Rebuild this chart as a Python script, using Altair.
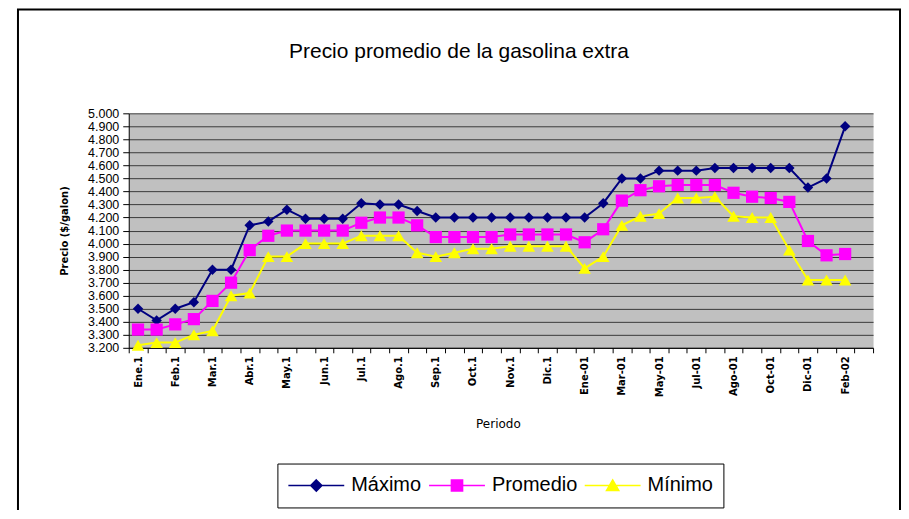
import altair as alt
import pandas as pd

periodos = ["Ene.1", "Ene.2", "Feb.1", "Feb.2", "Mar.1", "Mar.2", "Abr.1", "Abr.2",
            "May.1", "May.2", "Jun.1", "Jun.2", "Jul.1", "Jul.2", "Ago.1", "Ago.2",
            "Sep.1", "Sep.2", "Oct.1", "Oct.2", "Nov.1", "Nov.2", "Dic.1", "Dic.2",
            "Ene-01", "Feb-01", "Mar-01", "Abr-01", "May-01", "Jun-01", "Jul-01",
            "Jul-01 (2)", "Ago-01", "Sep-01", "Oct-01", "Nov-01", "Dic-01", "Ene-02",
            "Feb-02", "Mar-02"]

etiquetas = ["Ene.1", "Feb.1", "Mar.1", "Abr.1", "May.1", "Jun.1", "Jul.1", "Ago.1",
             "Sep.1", "Oct.1", "Nov.1", "Dic.1", "Ene-01", "Mar-01", "May-01",
             "Jul-01", "Ago-01", "Oct-01", "Dic-01", "Feb-02"]

maximo = [3.50, 3.41, 3.50, 3.55, 3.80, 3.80, 4.14, 4.17, 4.26, 4.19, 4.19, 4.19,
          4.31, 4.30, 4.30, 4.25, 4.20, 4.20, 4.20, 4.20, 4.20, 4.20, 4.20, 4.20,
          4.20, 4.31, 4.50, 4.50, 4.56, 4.56, 4.56, 4.58, 4.58, 4.58, 4.58, 4.58,
          4.43, 4.50, 4.90]

promedio = [3.34, 3.34, 3.38, 3.42, 3.56, 3.70, 3.95, 4.06, 4.10, 4.10, 4.10, 4.10,
            4.16, 4.20, 4.20, 4.14, 4.05, 4.05, 4.05, 4.05, 4.07, 4.07, 4.07, 4.07,
            4.01, 4.11, 4.33, 4.41, 4.44, 4.45, 4.45, 4.45, 4.39, 4.36, 4.35, 4.32,
            4.02, 3.91, 3.92]

minimo = [3.22, 3.24, 3.24, 3.30, 3.33, 3.60, 3.62, 3.90, 3.90, 4.00, 4.00, 4.00,
          4.06, 4.06, 4.06, 3.93, 3.90, 3.93, 3.96, 3.96, 3.98, 3.98, 3.98, 3.98,
          3.81, 3.90, 4.14, 4.21, 4.23, 4.35, 4.35, 4.36, 4.21, 4.20, 4.20, 3.95,
          3.72, 3.72, 3.72]

yticks = [3.2, 3.3, 3.4, 3.5, 3.6, 3.7, 3.8, 3.9, 4.0, 4.1, 4.2, 4.3, 4.4, 4.5,
          4.6, 4.7, 4.8, 4.9, 5.0]

series = ["Máximo", "Promedio", "Mínimo"]
colores = ["#000080", "#FF00FF", "#FFFF00"]
marcadores = ["diamond", "square", "triangle-up"]
tamanos = [110, 150, 160]
simbolos_leyenda = [
    "M-1,0H1M0,-0.2L0.2,0L0,0.2L-0.2,0Z",
    "M-1,0H1M-0.2,-0.2H0.2V0.2H-0.2Z",
    "M-1,0H1M0,-0.2L0.22,0.18L-0.22,0.18Z",
]

filas = []
for nombre, valores in zip(series, [maximo, promedio, minimo]):
    for p, v in zip(periodos, valores):
        filas.append({"serie": nombre, "periodo": p, "precio": v})
df = pd.DataFrame(filas)

W, H = 746, 235
FONT = "Liberation Sans"

label_expr = "indexof(" + str(etiquetas) + ", datum.value) >= 0 ? datum.value : ''"

x_enc = alt.X(
    "periodo:N",
    sort=periodos,
    scale=alt.Scale(type="band", domain=periodos, paddingInner=0, paddingOuter=0),
    axis=alt.Axis(
        title="Periodo", labelExpr=label_expr, labelAngle=-90,
        labelFont="DejaVu Sans", labelFontWeight="bold", labelFontSize=10,
        labelColor="black", labelPadding=3, tickBand="extent", tickSize=5,
        tickColor="black", domainColor="black", grid=False,
        titleFont="DejaVu Sans", titleFontSize=12, titleFontWeight="normal",
        titleColor="black", titleX=W / 2 - 3, titleY=80,
        titleBaseline="alphabetic", titleAlign="center",
    ),
)

y_enc = alt.Y(
    "precio:Q",
    scale=alt.Scale(domain=[3.2, 5.0], nice=False, zero=False),
    axis=alt.Axis(
        title="Precio ($/galon)", values=yticks, format=".3f", grid=True,
        gridColor="#3a3a3a", gridWidth=1, tickSize=6, tickColor="black",
        domainColor="black", labelFont=FONT, labelFontSize=12.5,
        labelColor="black", labelPadding=4,
        titleFont="DejaVu Sans", titleFontSize=10, titleFontWeight="bold",
        titleColor="black", titleAngle=-90, titleX=-64, titleY=H / 2,
        titleAlign="center", titleBaseline="middle",
    ),
)

marco = alt.Chart(pd.DataFrame({"marco": [1]})).mark_rect(
    fillOpacity=0, stroke="black", strokeWidth=2
).encode(x=alt.value(-111), x2=alt.value(773), y=alt.value(-104), y2=alt.value(600))

titulo = alt.Chart(pd.DataFrame({"marco": [1]})).mark_text(
    text="Precio promedio de la gasolina extra", font=FONT, fontSize=21,
    color="black", align="center", baseline="alphabetic",
).encode(x=alt.value(331), y=alt.value(-55))

capas = []
for nombre, col in zip(series, colores):
    capas.append(
        alt.Chart(df).transform_filter(alt.datum.serie == nombre).mark_line(
            strokeWidth=2, color=col
        ).encode(x=x_enc, y=y_enc)
    )
for nombre, col, shp, sz in zip(series, colores, marcadores, tamanos):
    capas.append(
        alt.Chart(df).transform_filter(alt.datum.serie == nombre).mark_point(
            filled=True, shape=shp, size=sz, color=col, opacity=1
        ).encode(x=x_enc, y=y_enc)
    )

ley = alt.Legend(
    title=None, orient="none", legendX=149, legendY=351, direction="horizontal",
    columns=3, strokeColor="black", fillColor="white", padding=10,
    labelFont=FONT, labelFontSize=20, labelColor="black", labelOffset=6,
    symbolSize=3136, symbolStrokeWidth=1.5, symbolOpacity=1, columnPadding=6,
    clipHeight=24,
)

leyenda = alt.Chart(df).mark_point(filled=True, opacity=0).encode(
    x=x_enc, y=y_enc,
    fill=alt.Fill("serie:N", scale=alt.Scale(domain=series, range=colores), legend=ley),
    stroke=alt.Stroke("serie:N", scale=alt.Scale(domain=series, range=colores), legend=ley),
    shape=alt.Shape("serie:N", scale=alt.Scale(domain=series, range=simbolos_leyenda), legend=ley),
)

chart = alt.layer(marco, titulo, *capas, leyenda).properties(
    width=W, height=H,
    padding={"left": 121, "top": 105, "right": 28, "bottom": 162},
    autosize=alt.AutoSizeParams(type="none"),
).configure_view(stroke="transparent", fill="#C0C0C0")

chart.save("out.html", embed_options={"renderer": "svg", "actions": False})
